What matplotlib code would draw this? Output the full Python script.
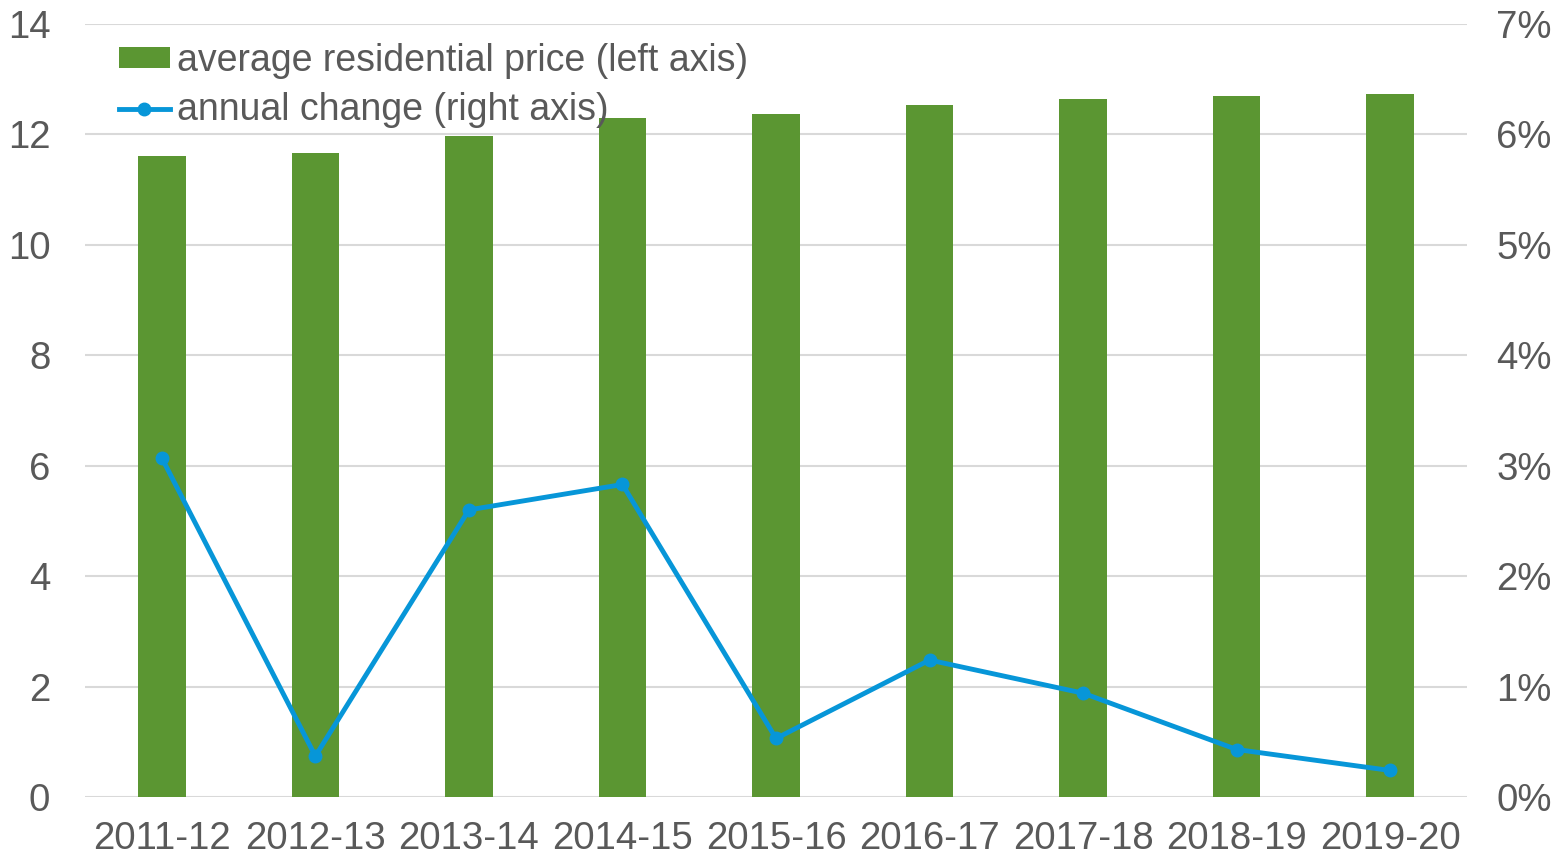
import numpy as np
import matplotlib.pyplot as plt
from matplotlib.ticker import FuncFormatter

# Data
years = ['2011-12', '2012-13', '2013-14', '2014-15', '2015-16',
         '2016-17', '2017-18', '2018-19', '2019-20']
avg_price = [11.61, 11.66, 11.97, 12.30, 12.37, 12.53, 12.64, 12.70, 12.73]
annual_change = [3.07, 0.37, 2.60, 2.83, 0.53, 1.24, 0.94, 0.43, 0.24]  # percent

bar_color = '#5b9632'
line_color = '#0796d8'
text_color = '#595959'
grid_color = '#d9d9d9'

plt.rcParams['font.family'] = ['Liberation Sans', 'DejaVu Sans']

fig = plt.figure(figsize=(15.63, 8.59), dpi=100)
ax = fig.add_axes([0.0544, 0.0722, 0.8842, 0.8998])
ax2 = ax.twinx()

x = np.arange(len(years))
bars = ax.bar(x, avg_price, width=0.31, color=bar_color, zorder=2,
              label='average residential price (left axis)')
line, = ax2.plot(x, annual_change, color=line_color, linewidth=3.5,
                 marker='o', markersize=9, zorder=3,
                 label='annual change (right axis)')

# Left axis
ax.set_xlim(-0.5, len(years) - 0.5)
ax.set_ylim(0, 14)
ax.set_yticks(np.arange(0, 15, 2))
ax.yaxis.grid(True, color=grid_color, linewidth=1.5, zorder=0)
ax.set_axisbelow(True)

# Right axis
ax2.set_ylim(0, 7)
ax2.set_yticks(np.arange(0, 8, 1))
ax2.yaxis.set_major_formatter(FuncFormatter(lambda v, p: f'{v:.0f}%'))

ax.set_xticks(x)
ax.set_xticklabels(years)

for a in (ax, ax2):
    for s in a.spines.values():
        s.set_visible(False)
    a.tick_params(length=0, labelsize=27.6, colors=text_color)
ax.tick_params(axis='y', pad=25)
ax2.tick_params(axis='y', pad=21)
ax.tick_params(axis='x', pad=17)

ax.legend(handles=[bars, line], loc='upper left', bbox_to_anchor=(0.0135, 0.995),
          frameon=False, fontsize=27, labelcolor=text_color,
          handlelength=1.36, handleheight=0.45, handletextpad=0.19,
          labelspacing=0.36, borderaxespad=0.0)

fig.savefig('out.png', dpi=100)
